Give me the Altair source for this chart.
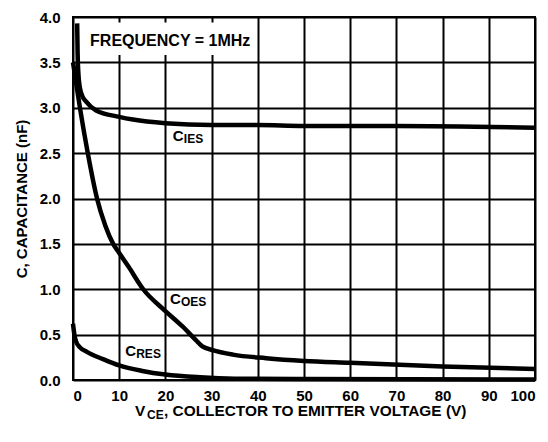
import altair as alt
import pandas as pd

# ---- data ----
ies_v = [0.9, 1.0, 1.2, 1.5, 2.0, 2.8, 5, 10, 13, 20, 30, 40, 50, 70, 100]
ies_c = [3.93, 3.6, 3.35, 3.22, 3.13, 3.07, 2.97, 2.90, 2.87, 2.83, 2.81, 2.81, 2.80, 2.80, 2.78]

oes_v = [0, 1.5, 3.2, 5.2, 7, 8.7, 10, 12, 15.2, 20, 23.7, 26.6, 28, 30.2, 34.6, 41.8, 50, 60, 80, 100]
oes_c = [3.5, 3.0, 2.5, 2.0, 1.70, 1.50, 1.40, 1.25, 1.0, 0.76, 0.59, 0.44, 0.37, 0.33, 0.28, 0.24, 0.21, 0.19, 0.15, 0.12]

res_v = [0, 0.3, 0.7, 1.5, 3, 6.5, 10, 15, 20, 27.5, 35, 50, 100]
res_c = [0.62, 0.5, 0.42, 0.36, 0.31, 0.23, 0.16, 0.10, 0.06, 0.03, 0.015, 0.01, 0.005]

x_ticks = [0, 10, 20, 30, 40, 50, 60, 70, 80, 90, 100]
y_ticks = [0, 0.5, 1.0, 1.5, 2.0, 2.5, 3.0, 3.5, 4.0]

label_main = ["C", "C", "C"]
label_sub = ["IES", "OES", "RES"]
label_x = [21.6, 21.0, 11.3]
label_y = [2.69, 0.89, 0.32]

freq_text = "FREQUENCY = 1MHz"

FONT = "Liberation Sans"

rows = []
for name, vs, cs in [("IES", ies_v, ies_c), ("OES", oes_v, oes_c), ("RES", res_v, res_c)]:
    for v, c in zip(vs, cs):
        rows.append({"series": name, "V": v, "C": c})
df = pd.DataFrame(rows)

labels = pd.DataFrame({"main": label_main, "sub": label_sub, "x": label_x, "y": label_y})

xs = alt.Scale(domain=[0, 100], nice=False)
ys = alt.Scale(domain=[0, 4], nice=False)

lines = alt.Chart(df).mark_line(color="black", strokeWidth=4.5, interpolate="monotone", clip=False).encode(
    x=alt.X("V:Q", scale=xs,
            axis=alt.Axis(values=x_ticks, format="d", title=None, labelPadding=8,
                          labelFontSize=15)),
    y=alt.Y("C:Q", scale=ys,
            axis=alt.Axis(values=y_ticks, format=".1f", title="C, CAPACITANCE (nF)",
                          labelPadding=13, labelFontSize=15,
                          titleX=-52, titleY=181.5, titleAngle=-90,
                          titleAlign="center", titleBaseline="middle",
                          titleFontSize=15)),
    detail="series:N",
)

box = alt.Chart(pd.DataFrame({"a": [0]})).mark_rect(color="white").encode(
    x=alt.datum(1.95, scale=xs), x2=alt.datum(39.4),
    y=alt.datum(3.94, scale=ys), y2=alt.datum(3.58),
)

freq = alt.Chart(pd.DataFrame({"t": [freq_text]})).mark_text(
    align="left", baseline="middle", font=FONT, fontWeight="bold", fontSize=16, color="black"
).encode(x=alt.datum(3.7, scale=xs), y=alt.datum(3.74, scale=ys), text="t:N")

lab_main = alt.Chart(labels).mark_text(
    align="left", baseline="middle", font=FONT, fontWeight="bold", fontSize=15, color="black"
).encode(x=alt.X("x:Q", scale=xs), y=alt.Y("y:Q", scale=ys), text="main:N")

lab_sub = alt.Chart(labels).mark_text(
    align="left", baseline="middle", font=FONT, fontWeight="bold", fontSize=12, color="black",
    dx=11, dy=3
).encode(x=alt.X("x:Q", scale=xs), y=alt.Y("y:Q", scale=ys), text="sub:N")

tdf = pd.DataFrame({"a": ["V"], "b": ["CE"], "c": [", COLLECTOR TO EMITTER VOLTAGE (V)"]})
t_style = dict(align="left", baseline="middle", font=FONT, fontWeight="bold", color="black")
xt1 = alt.Chart(tdf).mark_text(fontSize=15.4, **t_style).encode(
    x=alt.value(62), y=alt.value(394), text="a:N")
xt2 = alt.Chart(tdf).mark_text(fontSize=12, **t_style).encode(
    x=alt.value(74), y=alt.value(398), text="b:N")
xt3 = alt.Chart(tdf).mark_text(fontSize=15.4, **t_style).encode(
    x=alt.value(91), y=alt.value(394), text="c:N")

chart = alt.layer(box, lines, freq, lab_main, lab_sub, xt1, xt2, xt3).properties(
    width=462, height=363,
    autosize=alt.AutoSizeParams(type="none"),
    padding={"left": 65, "top": 9, "right": 5, "bottom": 54},
).configure_view(
    stroke="black", strokeWidth=2
).configure_axis(
    labelFont=FONT, labelFontWeight="bold", labelColor="black",
    titleFont=FONT, titleFontWeight="bold", titleColor="black",
    ticks=False, domain=False,
    grid=True, gridColor="black", gridWidth=2, gridOpacity=1,
)

chart.save("out.html", embed_options={"renderer": "svg", "actions": False})
